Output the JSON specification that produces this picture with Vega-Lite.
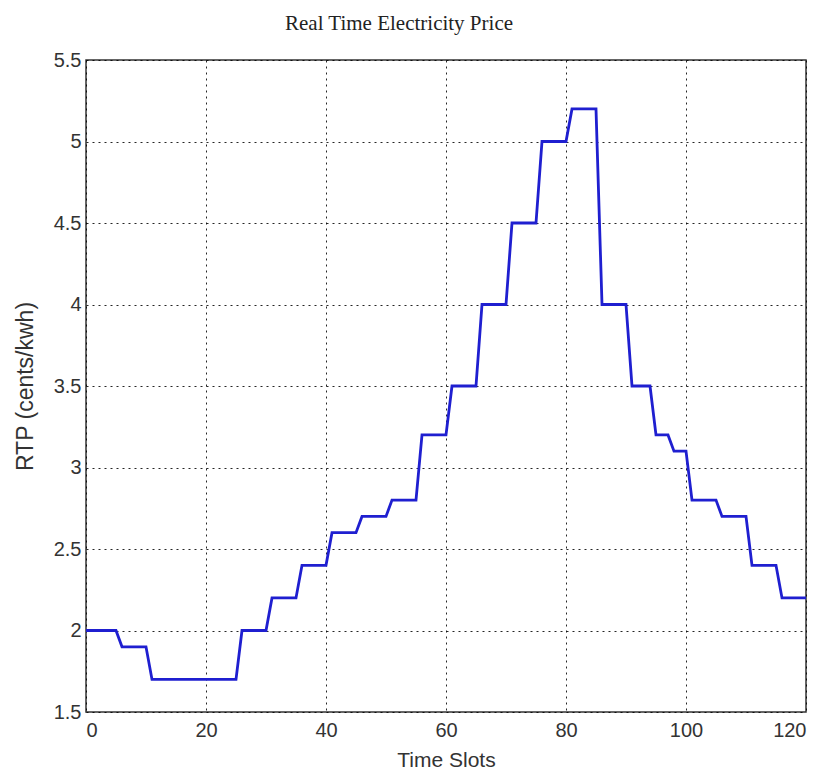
{
  "$schema": "https://vega.github.io/schema/vega-lite/v6.json",
  "autosize": "none",
  "width": 720,
  "height": 652,
  "padding": {"left": 86, "top": 60, "right": 19, "bottom": 65},
  "background": "white",
  "title": {
    "text": "Real Time Electricity Price",
    "font": "Liberation Serif",
    "fontSize": 21,
    "fontWeight": "normal",
    "color": "#222",
    "anchor": "middle",
    "frame": "group",
    "dx": -47,
    "offset": 16
  },
  "config": {
    "view": {"stroke": "#333", "strokeWidth": 1.5},
    "axis": {
      "labelFont": "Liberation Sans",
      "labelFontSize": 20,
      "labelColor": "#333",
      "titleFont": "Liberation Sans",
      "titleFontSize": 21,
      "titleFontWeight": "normal",
      "titleColor": "#333",
      "gridColor": "#000",
      "gridDash": [2, 4],
      "gridWidth": 1,
      "gridOpacity": 0.85,
      "domain": false,
      "ticks": false
    }
  },
  "data": {
    "values": [
      {"t": 0, "p": 2.0}, {"t": 1, "p": 2.0}, {"t": 2, "p": 2.0}, {"t": 3, "p": 2.0}, {"t": 4, "p": 2.0}, {"t": 5, "p": 2.0},
      {"t": 6, "p": 1.9}, {"t": 7, "p": 1.9}, {"t": 8, "p": 1.9}, {"t": 9, "p": 1.9}, {"t": 10, "p": 1.9},
      {"t": 11, "p": 1.7}, {"t": 12, "p": 1.7}, {"t": 13, "p": 1.7}, {"t": 14, "p": 1.7}, {"t": 15, "p": 1.7},
      {"t": 16, "p": 1.7}, {"t": 17, "p": 1.7}, {"t": 18, "p": 1.7}, {"t": 19, "p": 1.7}, {"t": 20, "p": 1.7},
      {"t": 21, "p": 1.7}, {"t": 22, "p": 1.7}, {"t": 23, "p": 1.7}, {"t": 24, "p": 1.7}, {"t": 25, "p": 1.7},
      {"t": 26, "p": 2.0}, {"t": 27, "p": 2.0}, {"t": 28, "p": 2.0}, {"t": 29, "p": 2.0}, {"t": 30, "p": 2.0},
      {"t": 31, "p": 2.2}, {"t": 32, "p": 2.2}, {"t": 33, "p": 2.2}, {"t": 34, "p": 2.2}, {"t": 35, "p": 2.2},
      {"t": 36, "p": 2.4}, {"t": 37, "p": 2.4}, {"t": 38, "p": 2.4}, {"t": 39, "p": 2.4}, {"t": 40, "p": 2.4},
      {"t": 41, "p": 2.6}, {"t": 42, "p": 2.6}, {"t": 43, "p": 2.6}, {"t": 44, "p": 2.6}, {"t": 45, "p": 2.6},
      {"t": 46, "p": 2.7}, {"t": 47, "p": 2.7}, {"t": 48, "p": 2.7}, {"t": 49, "p": 2.7}, {"t": 50, "p": 2.7},
      {"t": 51, "p": 2.8}, {"t": 52, "p": 2.8}, {"t": 53, "p": 2.8}, {"t": 54, "p": 2.8}, {"t": 55, "p": 2.8},
      {"t": 56, "p": 3.2}, {"t": 57, "p": 3.2}, {"t": 58, "p": 3.2}, {"t": 59, "p": 3.2}, {"t": 60, "p": 3.2},
      {"t": 61, "p": 3.5}, {"t": 62, "p": 3.5}, {"t": 63, "p": 3.5}, {"t": 64, "p": 3.5}, {"t": 65, "p": 3.5},
      {"t": 66, "p": 4.0}, {"t": 67, "p": 4.0}, {"t": 68, "p": 4.0}, {"t": 69, "p": 4.0}, {"t": 70, "p": 4.0},
      {"t": 71, "p": 4.5}, {"t": 72, "p": 4.5}, {"t": 73, "p": 4.5}, {"t": 74, "p": 4.5}, {"t": 75, "p": 4.5},
      {"t": 76, "p": 5.0}, {"t": 77, "p": 5.0}, {"t": 78, "p": 5.0}, {"t": 79, "p": 5.0}, {"t": 80, "p": 5.0},
      {"t": 81, "p": 5.2}, {"t": 82, "p": 5.2}, {"t": 83, "p": 5.2}, {"t": 84, "p": 5.2}, {"t": 85, "p": 5.2},
      {"t": 86, "p": 4.0}, {"t": 87, "p": 4.0}, {"t": 88, "p": 4.0}, {"t": 89, "p": 4.0}, {"t": 90, "p": 4.0},
      {"t": 91, "p": 3.5}, {"t": 92, "p": 3.5}, {"t": 93, "p": 3.5}, {"t": 94, "p": 3.5},
      {"t": 95, "p": 3.2}, {"t": 96, "p": 3.2}, {"t": 97, "p": 3.2},
      {"t": 98, "p": 3.1}, {"t": 99, "p": 3.1}, {"t": 100, "p": 3.1},
      {"t": 101, "p": 2.8}, {"t": 102, "p": 2.8}, {"t": 103, "p": 2.8}, {"t": 104, "p": 2.8}, {"t": 105, "p": 2.8},
      {"t": 106, "p": 2.7}, {"t": 107, "p": 2.7}, {"t": 108, "p": 2.7}, {"t": 109, "p": 2.7}, {"t": 110, "p": 2.7},
      {"t": 111, "p": 2.4}, {"t": 112, "p": 2.4}, {"t": 113, "p": 2.4}, {"t": 114, "p": 2.4}, {"t": 115, "p": 2.4},
      {"t": 116, "p": 2.2}, {"t": 117, "p": 2.2}, {"t": 118, "p": 2.2}, {"t": 119, "p": 2.2}, {"t": 120, "p": 2.2}
    ]
  },
  "mark": {"type": "line", "color": "#1f1fd0", "strokeWidth": 2.8, "clip": true},
  "encoding": {
    "x": {
      "field": "t",
      "type": "quantitative",
      "scale": {"domain": [0, 120], "nice": false, "zero": false},
      "axis": {"title": "Time Slots", "values": [0, 20, 40, 60, 80, 100, 120], "labelPadding": 8, "titlePadding": 9}
    },
    "y": {
      "field": "p",
      "type": "quantitative",
      "scale": {"domain": [1.5, 5.5], "nice": false, "zero": false},
      "axis": {"title": "RTP (cents/kwh)", "titleFontSize": 23, "values": [1.5, 2, 2.5, 3, 3.5, 4, 4.5, 5, 5.5], "labelPadding": 5, "titlePadding": 16, "format": "~r"}
    }
  }
}
